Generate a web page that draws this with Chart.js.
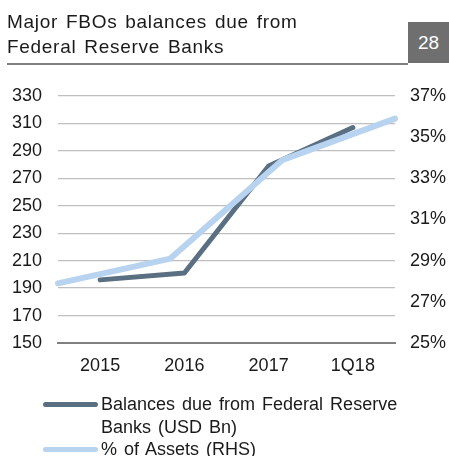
<!DOCTYPE html>
<html>
<head>
<meta charset="utf-8">
<script src="https://cdn.jsdelivr.net/npm/chart.js@4"></script>
<style>
  body { margin: 0; background: #fff; font-family: "Liberation Sans", Arial, sans-serif; }
  #wrap { position: relative; width: 449px; height: 456px; overflow: hidden; }
  #title { position: absolute; left: 7px; top: 9px; font-size: 19px; line-height: 25px; color: #1a1a1a;
           letter-spacing: 0.7px; word-spacing: 2px; white-space: nowrap; }
  #num { position: absolute; left: 408px; top: 22px; width: 41px; height: 41px; background: #6f6f6f;
         color: #fff; font-size: 19px; line-height: 41px; text-align: center; }
  #rule { position: absolute; left: 7px; top: 63px; width: 401px; height: 2px; background: #7f7f7f; }
  #chart { position: absolute; left: 0; top: 0; }
  #legend { position: absolute; left: 43px; top: 393px; font-size: 18px; line-height: 22.5px; color: #1a1a1a;
            word-spacing: 2px; }
  .item { display: flex; align-items: flex-start; }
  .swatch { width: 55px; height: 5px; border-radius: 3px; margin-top: 9px; margin-right: 3px; flex: none; }
</style>
</head>
<body>
<div id="wrap">
  <canvas id="chart" width="449" height="456"></canvas>
  <div id="title">Major FBOs balances due from<br>Federal Reserve Banks</div>
  <div id="num">28</div>
  <div id="rule"></div>
  <div id="legend"></div>
</div>
<script>
const categories = ['2015', '2016', '2017', '1Q18'];
const balances = [196, 201, 279, 307];
const pctAssets = [27.9, 29.1, 33.9, 35.9];
const seriesNames = ['Balances due from Federal Reserve\nBanks (USD Bn)', '% of Assets (RHS)'];

function drawChart() {
    const ctx = document.getElementById('chart').getContext('2d');
    const tickFont = { family: '"Liberation Sans", Arial, sans-serif', size: 18 };

    const chart = new Chart(ctx, {
        type: 'line',
        data: {
            labels: categories,
            datasets: [{
                label: seriesNames[0],
                data: balances,
                borderColor: '#5b6f83',
                borderWidth: 5,
                xAxisID: 'x',
                yAxisID: 'y',
                order: 2
            }, {
                label: seriesNames[1],
                data: pctAssets,
                borderColor: '#b7d3ef',
                borderWidth: 6,
                xAxisID: 'x2',
                yAxisID: 'y2',
                order: 1
            }]
        },
        options: {
            responsive: false,
            animation: false,
            layout: { padding: { top: 96, bottom: 73, left: 0, right: 0 } },
            elements: {
                point: { radius: 0 },
                line: { tension: 0, borderCapStyle: 'round', borderJoinStyle: 'round' }
            },
            plugins: { legend: { display: false }, tooltip: { enabled: false } },
            scales: {
                x: {
                    offset: true,
                    grid: { display: false, drawTicks: false },
                    border: { display: true, color: '#808080', width: 2 },
                    ticks: { color: '#1a1a1a', font: tickFont, padding: 12, maxRotation: 0 },
                    afterFit: s => { s.height = 40; }
                },
                x2: {
                    display: false,
                    offset: false
                },
                y: {
                    position: 'left',
                    min: 150, max: 330,
                    ticks: { stepSize: 20, color: '#1a1a1a', font: tickFont, padding: 16 },
                    grid: { color: '#bfbfbf', lineWidth: 1.3, drawTicks: false },
                    border: { display: false },
                    afterFit: s => { s.width = 58; }
                },
                y2: {
                    position: 'right',
                    min: 25, max: 37,
                    ticks: { stepSize: 2, color: '#1a1a1a', font: tickFont, padding: 15,
                             callback: v => v + '%' },
                    grid: { display: false, drawTicks: false },
                    border: { display: false },
                    afterFit: s => { s.width = 54; }
                }
            }
        }
    });

    const legend = document.getElementById('legend');
    legend.innerHTML = chart.data.datasets.map(ds => `
        <div class="item">
            <div class="swatch" style="background:${ds.borderColor}"></div>
            <div>${ds.label.replace('\n', '<br>')}</div>
        </div>`).join('');
}

document.addEventListener('DOMContentLoaded', drawChart);
</script>
</body>
</html>
